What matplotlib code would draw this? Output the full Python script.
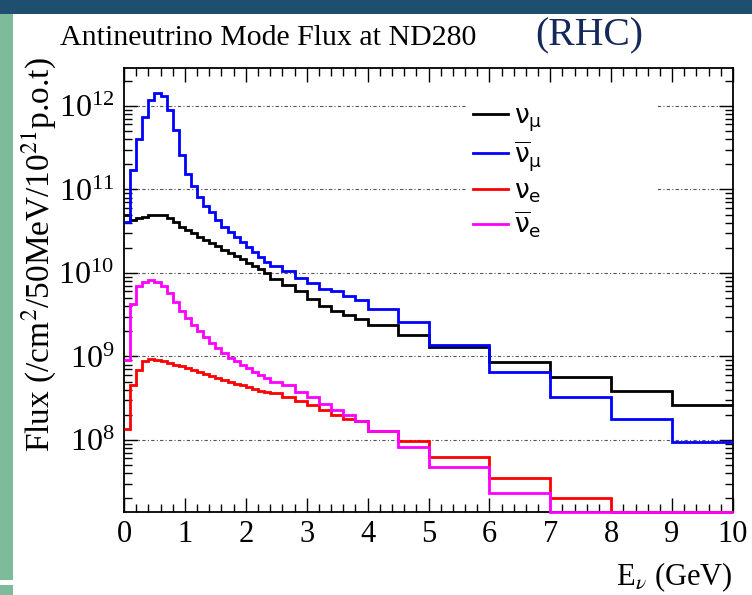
import numpy as np
import matplotlib
matplotlib.use("Agg")
import matplotlib.pyplot as plt
from matplotlib.patches import Rectangle
from matplotlib.ticker import MultipleLocator, LogLocator, NullFormatter

plt.rcParams['font.family'] = ['Liberation Serif', 'DejaVu Serif']
plt.rcParams['mathtext.fontset'] = 'stix'

# bin edges in GeV (variable binning)
edges = [0.0, 0.1, 0.2, 0.3, 0.4, 0.5, 0.6, 0.7, 0.8, 0.9, 1.0,
         1.1, 1.2, 1.3, 1.4, 1.5, 1.6, 1.7, 1.8, 1.9, 2.0,
         2.1, 2.2, 2.3, 2.4, 2.6, 2.8, 3.0, 3.2, 3.4, 3.6, 3.8, 4.0,
         4.5, 5.0, 6.0, 7.0, 8.0, 9.0, 10.0]

# flux per 50 MeV per 1e21 POT
numu = [4.9e10, 4.3e10, 4.5e10, 4.7e10, 4.9e10, 4.9e10, 4.9e10, 4.5e10, 4.1e10, 3.6e10,
        3.25e10, 3.0e10, 2.7e10, 2.5e10, 2.3e10, 2.1e10, 1.9e10, 1.75e10, 1.6e10, 1.45e10,
        1.3e10, 1.2e10, 1.1e10, 1.0e10,
        8.5e9, 7.2e9, 6.0e9, 4.9e9, 4.0e9, 3.5e9, 3.1e9, 2.8e9,
        2.35e9, 1.8e9, 1.3e9, 8.5e8, 5.6e8, 3.9e8, 2.6e8]
numubar = [4.1e10, 1.7e11, 4.0e11, 7.4e11, 1.18e12, 1.42e12, 1.32e12, 8.9e11, 5.2e11, 2.6e11,
           1.55e11, 1.1e11, 8.2e10, 6.4e10, 5.3e10, 4.3e10, 3.6e10, 3.1e10, 2.7e10, 2.35e10,
           2.05e10, 1.8e10, 1.55e10, 1.35e10,
           1.2e10, 1.05e10, 8.7e9, 7.6e9, 6.4e9, 6.0e9, 5.3e9, 4.8e9,
           3.7e9, 2.6e9, 1.38e9, 6.6e8, 3.3e8, 1.77e8, 9.4e7]
nue = [1.35e8, 4.6e8, 6.9e8, 8.8e8, 9.2e8, 9.1e8, 8.8e8, 8.4e8, 8.0e8, 7.6e8,
       7.2e8, 6.8e8, 6.5e8, 6.1e8, 5.8e8, 5.5e8, 5.2e8, 4.9e8, 4.7e8, 4.5e8,
       4.3e8, 4.1e8, 3.9e8, 3.75e8,
       3.6e8, 3.3e8, 2.9e8, 2.6e8, 2.3e8, 2.0e8, 1.8e8, 1.7e8,
       1.27e8, 9.7e7, 6.3e7, 3.5e7, 2.0e7, 0, 0]
nuebar = [9.0e8, 4.2e9, 6.9e9, 7.8e9, 8.3e9, 7.8e9, 7.0e9, 5.8e9, 4.5e9, 3.5e9,
          2.9e9, 2.4e9, 2.0e9, 1.7e9, 1.45e9, 1.26e9, 1.1e9, 9.5e8, 8.7e8, 8.0e8,
          7.3e8, 6.6e8, 6.0e8, 5.5e8,
          5.0e8, 4.6e8, 3.8e8, 3.3e8, 2.7e8, 2.3e8, 2.0e8, 1.7e8,
          1.28e8, 8.3e7, 4.8e7, 2.3e7, 0, 0, 0]

labels = [r'$\mathregular{\nu_{\mu}}$', r'$\mathregular{\overline{\nu}_{\mu}}$',
          r'$\mathregular{\nu_{e}}$', r'$\mathregular{\overline{\nu}_{e}}$']
colors = ['black', '#0000ff', '#ff0000', '#ff00ff']

ymin, ymax = 1.37e7, 2.85e12

fig = plt.figure(figsize=(7.52, 5.95), dpi=100)

# slide decoration
fig.add_artist(Rectangle((0, 1 - 14 / 595), 1, 14 / 595, transform=fig.transFigure,
                         color='#1e4f6e', lw=0))
fig.add_artist(Rectangle((0, 15 / 595), 13 / 752, 1 - 29 / 595, transform=fig.transFigure,
                         color='#7dbb9b', lw=0))
fig.add_artist(Rectangle((0, 0), 13 / 752, 10 / 595, transform=fig.transFigure,
                         color='#7dbb9b', lw=0))

ax = fig.add_axes([124 / 752, 83 / 595, 609 / 752, 444 / 595])

for vals, lab, c in zip([numu, numubar, nue, nuebar], labels, colors):
    y = np.clip(np.array(vals, dtype=float), ymin, None)
    ax.stairs(y, edges, baseline=None, color=c, lw=2, label=lab, zorder=3, clip_on=False)

ax.set_yscale('log')
ax.set_xlim(0, 10)
ax.set_ylim(ymin, ymax)

ax.yaxis.grid(True, which='major', color='#555555', lw=0.8, linestyle=(0, (3, 2, 1, 2)))
ax.set_axisbelow(True)

ax.xaxis.set_major_locator(MultipleLocator(1))
ax.xaxis.set_minor_locator(MultipleLocator(0.2))
ax.yaxis.set_minor_locator(LogLocator(base=10, subs=np.arange(2, 10) * 1.0, numticks=100))
ax.yaxis.set_minor_formatter(NullFormatter())
ax.tick_params(which='both', direction='in', top=True, right=True, width=1)
ax.tick_params(which='major', length=10)
ax.tick_params(which='minor', length=6)
ax.tick_params(axis='x', labelsize=22, pad=6)
ax.tick_params(axis='y', labelsize=23, pad=7)
for s in ax.spines.values():
    s.set_linewidth(1.3)

ax.set_ylabel(r'Flux (/cm$^{2}$/50MeV/10$^{21}$p.o.t)', fontsize=24, loc='top')
ax.yaxis.set_label_coords(-0.108, 1.025)
ax.set_xlabel(r'E$_{\nu}$ (GeV)', fontsize=22, loc='right')
ax.xaxis.set_label_coords(1.0, -0.11)

# white box behind legend
ax.add_patch(Rectangle((0.563, 0.58), 0.312, 0.37, transform=ax.transAxes,
                       color='white', lw=0, zorder=1))
leg = ax.legend(loc='upper left', bbox_to_anchor=(0.552, 0.95), frameon=False,
                prop={'family': 'DejaVu Sans', 'size': 19, 'math_fontfamily': 'dejavusans'},
                handlelength=1.3, handletextpad=0.25, labelspacing=0.2, borderpad=0)

fig.text(60 / 752, 1 - 45 / 595, 'Antineutrino Mode Flux at ND280', fontsize=21.5,
         ha='left', va='baseline')
fig.text(535 / 752, 1 - 45 / 595, '(RHC)', fontsize=28.5, color='#14285a',
         ha='left', va='baseline')

fig.savefig('out.png', dpi=100)
